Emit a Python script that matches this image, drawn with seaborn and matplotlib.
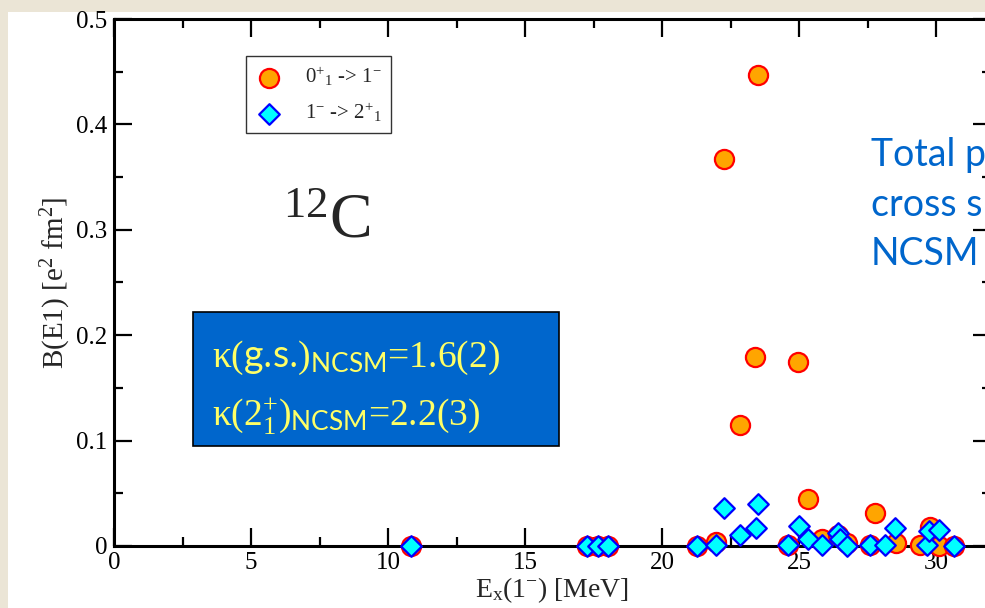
import matplotlib
matplotlib.use("Agg")
import matplotlib.pyplot as plt
import matplotlib.ticker as mticker
from matplotlib.patches import Rectangle
import seaborn as sns

# 0+_1 -> 1- transitions (orange circles)
gs_ex = [10.83, 17.25, 17.67, 18.04, 21.27, 21.97, 22.26, 22.85, 23.40, 23.50,
         24.60, 24.96, 25.34, 25.83, 26.43, 26.74, 27.60, 27.77, 28.54, 29.40,
         29.78, 30.09, 30.64]
gs_be1 = [0.0, 0.0, 0.0, 0.0, 0.0, 0.004, 0.367, 0.115, 0.179, 0.447,
          0.001, 0.175, 0.045, 0.007, 0.010, 0.003, 0.001, 0.031, 0.003, 0.001,
          0.018, 0.0, 0.0]

# 1- -> 2+_1 transitions (cyan diamonds)
ex_ex = [10.83, 17.25, 17.67, 18.04, 21.27, 21.97, 22.24, 22.85, 23.43, 23.49,
         24.60, 25.00, 25.34, 25.83, 26.43, 26.50, 26.74, 27.60, 28.14, 28.50,
         29.66, 29.72, 30.12, 30.64]
ex_be1 = [0.0, 0.0, 0.0, 0.0, 0.0, 0.001, 0.036, 0.010, 0.017, 0.040,
          0.001, 0.019, 0.007, 0.001, 0.012, 0.007, 0.0, 0.001, 0.001, 0.017,
          0.001, 0.014, 0.015, 0.0]

x_major = [0, 5, 10, 15, 20, 25, 30]
y_major = [0, 0.1, 0.2, 0.3, 0.4, 0.5]

sns.set_style("ticks")
plt.rcParams['font.family'] = ['Liberation Serif', 'DejaVu Serif']
plt.rcParams['mathtext.fontset'] = 'custom'
plt.rcParams['mathtext.rm'] = 'Liberation Serif'
plt.rcParams['mathtext.it'] = 'Liberation Serif:italic'
plt.rcParams['mathtext.bf'] = 'Liberation Serif:bold'
plt.rcParams['mathtext.sf'] = 'Lato'

W, H = 985, 608
fig = plt.figure(figsize=(W / 100, H / 100), dpi=100, facecolor='#ebe5d6')
# white slide area behind everything
fig.patches.append(Rectangle((8 / W, 0), 1, (H - 12) / H, transform=fig.transFigure,
                             facecolor='white', edgecolor='none', zorder=-5))

ax = fig.add_axes([114 / W, 62 / H, 877 / W, 527 / H])
ax.set_facecolor('white')

sns.scatterplot(x=gs_ex, y=gs_be1, ax=ax, marker='o', s=190, color='#ffa500',
                edgecolor='red', linewidth=1.6, clip_on=False, zorder=5,
                label=r"0$^{+}$$_{1}$ -> 1$^{-}$")
sns.scatterplot(x=ex_ex, y=ex_be1, ax=ax, marker='D', s=110, color='#00ffff',
                edgecolor='blue', linewidth=1.6, clip_on=False, zorder=6,
                label=r"1$^{-}$ -> 2$^{+}$$_{1}$")

ax.set_xlim(0, 32)
ax.set_ylim(0, 0.5)
ax.set_xticks(x_major)
ax.set_yticks(y_major)
ax.xaxis.set_minor_locator(mticker.MultipleLocator(2.5))
ax.yaxis.set_minor_locator(mticker.MultipleLocator(0.05))
ax.yaxis.set_major_formatter(mticker.FuncFormatter(lambda v, p: '%g' % v))
ax.tick_params(which='both', direction='in', top=True, right=True,
               width=1.6, labelsize=18, pad=5, colors='black')
ax.tick_params(axis='x', pad=4)
ax.tick_params(which='major', length=13)
ax.tick_params(which='minor', length=6.5)
for sp in ax.spines.values():
    sp.set_linewidth(2.2)
    sp.set_color('black')

ax.set_xlabel(r"E$_{\mathrm{x}}$(1$^{-}$) [MeV]", fontsize=20, labelpad=1)
ax.set_ylabel(r"B(E1) [e$^{2}$ fm$^{2}$]", fontsize=21, labelpad=2)

leg = ax.legend(loc='upper left', bbox_to_anchor=((246 - 114) / 877, (546 - 56) / 527),
                borderaxespad=0, fontsize=15, frameon=True, fancybox=False,
                edgecolor='black', handletextpad=1.1, labelspacing=0.6,
                borderpad=0.45, handlelength=1.3)
leg.get_frame().set_linewidth(1.0)

# nucleus label
ax.text((327 - 114) / 877, (546 - 222) / 527, r"$^{12}$C", transform=ax.transAxes,
        fontsize=46, ha='center', va='center')

# blue info box
fig.patches.append(Rectangle((193 / W, (H - 446) / H), 366 / W, 134 / H,
                             transform=fig.transFigure, facecolor='#0066cc',
                             edgecolor='black', linewidth=1.2, zorder=3))
fig.text(212 / W, (H - 358) / H,
         r"κ($\mathsf{g}$.$\mathsf{s}$.)$_{\mathsf{NCSM}}$=1.6(2)",
         fontsize=27, color='#ffff66', ha='left', va='center', zorder=4)
fig.text(212 / W, (H - 416) / H,
         r"κ(2$^{+}_{1}$)$_{\mathsf{NCSM}}$=2.2(3)",
         fontsize=27, color='#ffff66', ha='left', va='center', zorder=4)

# slide text (cut off in the source at the right edge)
for txt, yy in [("Total p", 155), ("cross s", 205), ("NCSM", 254)]:
    fig.text(871 / W, (H - yy) / H, txt, fontsize=27, color='#0066cc',
             family=['Lato', 'DejaVu Sans'], ha='left', va='center', zorder=4)

fig.savefig('out.png', dpi=100, facecolor=fig.get_facecolor())
